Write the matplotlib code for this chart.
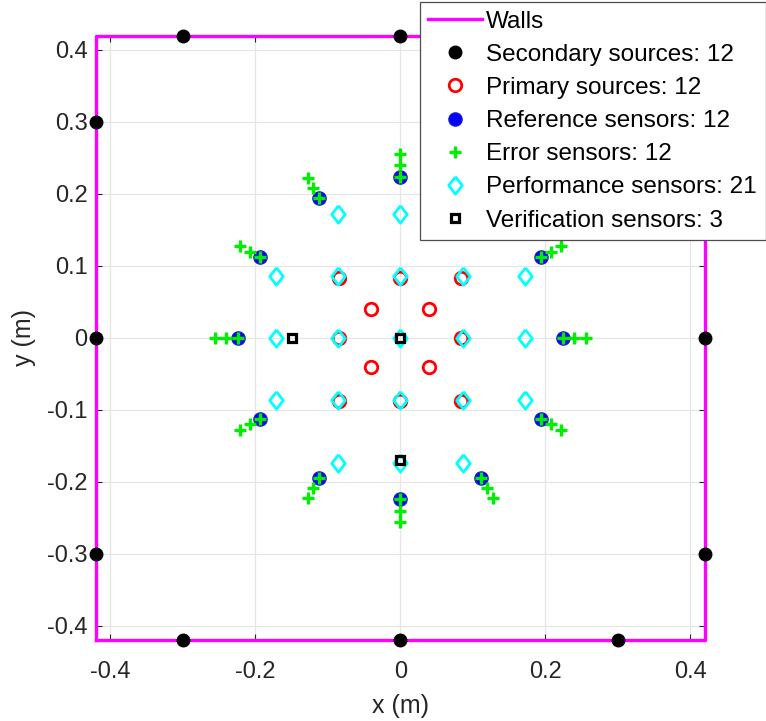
import numpy as np
import matplotlib
matplotlib.use('Agg')
import matplotlib.pyplot as plt

plt.rcParams['font.family'] = ['Liberation Sans', 'DejaVu Sans']

# walls (rectangle corners)
wall_x = [-0.42, 0.42, 0.42, -0.42, -0.42]
wall_y = [-0.42, -0.42, 0.42, 0.42, -0.42]

# secondary sources on the walls
sec_x = [-0.3, 0.0, 0.3, -0.42, -0.42, -0.42, 0.42, 0.42, 0.42, -0.3, 0.0, 0.3]
sec_y = [0.42, 0.42, 0.42, 0.3, 0.0, -0.3, 0.3, 0.0, -0.3, -0.42, -0.42, -0.42]

# primary sources
prim_x = [-0.04, 0.04, -0.04, 0.04, -0.084, 0.0, 0.084, -0.084, 0.084, -0.084, 0.0, 0.084]
prim_y = [0.04, 0.04, -0.04, -0.04, 0.084, 0.084, 0.084, 0.0, 0.0, -0.087, -0.087, -0.087]

# reference / error sensors placed on radial lines
sens_angles = [0, 30, 60, 90, 120, 150, 180, 210, 240, 270, 300, 330]
ref_radius = 0.224
err_radii = [0.224, 0.240, 0.256]

# performance sensors (grid)
perf_x = [-0.086, 0.0, 0.086,
          -0.172, -0.086, 0.0, 0.086, 0.172,
          -0.172, -0.086, 0.0, 0.086, 0.172,
          -0.172, -0.086, 0.0, 0.086, 0.172,
          -0.086, 0.0, 0.086]
perf_y = [0.172, 0.172, 0.172,
          0.086, 0.086, 0.086, 0.086, 0.086,
          0.0, 0.0, 0.0, 0.0, 0.0,
          -0.086, -0.086, -0.086, -0.086, -0.086,
          -0.173, -0.173, -0.173]

# verification sensors
ver_x = [-0.15, 0.0, 0.0]
ver_y = [0.0, 0.0, -0.17]

th = np.deg2rad(sens_angles)
ref_x = ref_radius * np.cos(th)
ref_y = ref_radius * np.sin(th)
err_x = np.concatenate([r * np.cos(th) for r in err_radii])
err_y = np.concatenate([r * np.sin(th) for r in err_radii])

# matlab-like diamond (wider than matplotlib's 'd')
diamond = [(0, 1), (0.78, 0), (0, -1), (-0.78, 0), (0, 1)]

fig = plt.figure(figsize=(7.66, 7.21), dpi=100)
ax = fig.add_axes([96 / 766, 1 - 640.4 / 721, 608.5 / 766, 604.8 / 721])

ax.plot(wall_x, wall_y, color='#ff00ff', lw=2.4, clip_on=False, zorder=3, label='Walls')
ax.plot(sec_x, sec_y, 'o', color='black', ms=9, clip_on=False, zorder=4,
        label='Secondary sources: 12')
ax.plot(prim_x, prim_y, 'o', mfc='none', mec='#ff0000', ms=9, mew=2, zorder=4,
        label='Primary sources: 12')
ax.plot(ref_x, ref_y, 'o', mfc='#0000ff', mec='#1a1acc', ms=9.5, mew=1, zorder=4,
        label='Reference sensors: 12')
ax.plot(err_x, err_y, '+', color='#00ee00', ms=8.5, mew=2.4, zorder=5,
        label='Error sensors: 12')
ax.plot(perf_x, perf_y, marker=diamond, ls='none', mfc='none', mec='#00ffff',
        ms=12.5, mew=2, zorder=6, label='Performance sensors: 21')
ax.plot(ver_x, ver_y, 's', mfc='none', mec='black', ms=6, mew=2.3, zorder=7,
        label='Verification sensors: 3')

ax.set_xlim(-0.42, 0.42)
ax.set_ylim(-0.42, 0.42)
ax.set_xticks([-0.4, -0.2, 0, 0.2, 0.4])
ax.set_xticklabels(['-0.4', '-0.2', '0', '0.2', '0.4'])
ax.set_yticks(np.round(np.arange(-0.4, 0.41, 0.1), 1))
ax.set_yticklabels(['-0.4', '-0.3', '-0.2', '-0.1', '0', '0.1', '0.2', '0.3', '0.4'])
ax.grid(True, color='#e6e6e6', lw=0.9)
ax.set_axisbelow(True)
for s in ax.spines.values():
    s.set_color('#262626')
    s.set_linewidth(0.8)
ax.tick_params(axis='both', direction='in', length=4.5, width=0.8, color='#262626',
               labelcolor='#262626', labelsize=17, top=True, right=True)
ax.tick_params(axis='x', pad=15)
ax.tick_params(axis='y', pad=6)
ax.set_xlabel('x (m)', fontsize=18, color='#262626', labelpad=8)
ax.set_ylabel('y (m)', fontsize=18, color='#262626', labelpad=8)

leg = ax.legend(loc='upper right', bbox_to_anchor=(765.5 / 766, 1 - 2 / 721),
                bbox_transform=fig.transFigure, fontsize=17.5, fancybox=False,
                framealpha=1, edgecolor='#4d4d4d', borderaxespad=0, borderpad=0.35,
                handlelength=2.2, handletextpad=0.2, labelspacing=0.46)
leg.get_frame().set_linewidth(0.9)
leg.set_zorder(10)

fig.savefig('out.png', dpi=100)
